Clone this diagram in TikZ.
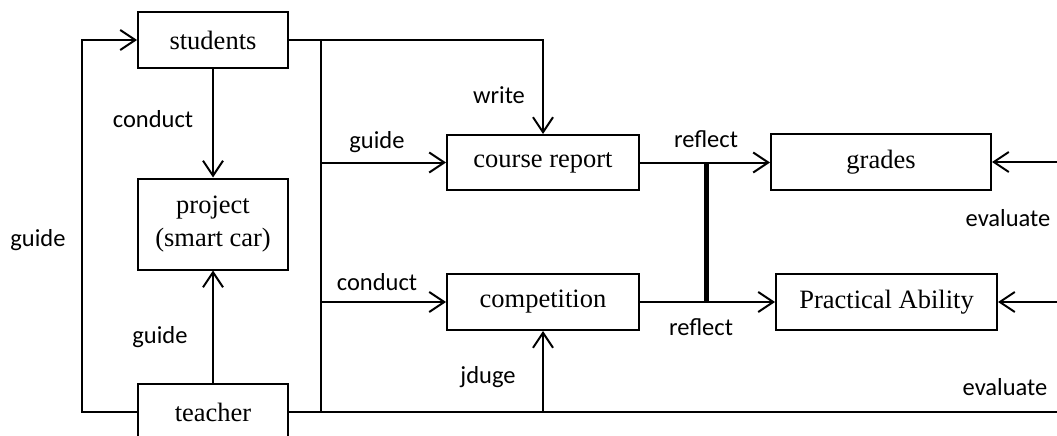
\documentclass[tikz,border=0pt]{standalone}
\usepackage{fontspec}
\setmainfont{Liberation Serif}
\newfontfamily\labfont{Carlito}
\usetikzlibrary{arrows.meta,calc}

\tikzset{
  box/.style={draw, line width=2pt, inner sep=0pt, align=center,
              font=\fontsize{26.5}{33}\selectfont},
  lbl/.style={inner sep=0pt, font=\labfont\fontsize{24.5}{28}\selectfont},
  wire/.style={line width=2pt},
  arr/.style={wire, -{Straight Barb[length=15pt,width=20pt,line width=2pt]}},
  bold/.style={line width=5pt}
}

\begin{document}
\begin{tikzpicture}[x=1pt, y=-1pt]
  \useasboundingbox (0,0) rectangle (1057,436);
  \clip (0,0) rectangle (1057,436);

  % boxes
  \node[box, minimum width=150pt, minimum height=56pt] (students) at (213,40) {students};
  \node[box, minimum width=150pt, minimum height=91pt] (project) at (213,224) {project\\(smart car)};
  \node[box, minimum width=150pt, minimum height=56pt] (teacher) at (213,412) {teacher};
  \node[box, minimum width=192pt, minimum height=55pt] (course) at (543,162.5) {course report};
  \node[box, minimum width=192pt, minimum height=56pt] (comp) at (543,302) {competition};
  \node[box, minimum width=220pt, minimum height=56pt] (grades) at (881,162) {grades};
  \node[box, minimum width=221pt, minimum height=56pt] (ability) at (886.5,302) {Practical Ability};

  % helper points
  \coordinate (loop) at (82,40);
  \coordinate (bus) at (321,40);
  \coordinate (busend) at (321,412);
  \coordinate (join) at (706,0);
  \coordinate (rim) at (1062,0);

  % teacher guides students (left loop)
  \draw[arr] (teacher.west) -| (loop) -- (students.west);

  % students / teacher to project
  \draw[arr] (students.south) -- (project.north);
  \draw[arr] (teacher.north) -- (project.south);

  % students write the course report
  \draw[arr] (students.east) -| (course.north);

  % vertical bus from students line to teacher line
  \draw[wire] (bus) -- (busend);
  \draw[arr] (bus |- course.west) -- (course.west);
  \draw[arr] (bus |- comp.west) -- (comp.west);

  % teacher line running right, judging the competition
  \draw[wire] (teacher.east) -- (rim |- teacher.east);
  \draw[arr] (teacher.east -| comp.south) -- (comp.south);

  % reflect
  \draw[arr] (course.east) -- (course.east -| grades.west);
  \draw[arr] (comp.east) -- (comp.east -| ability.west);
  \draw[bold] (join |- course.east) -- (join |- comp.east);

  % evaluate from the right
  \draw[arr] (rim |- grades.east) -- (grades.east);
  \draw[arr] (rim |- ability.east) -- (ability.east);

  % labels
  \node[lbl] (l1) at (153,119) {conduct};
  \node[lbl] (l2) at (38,240) {guide};
  \node[lbl] (l3) at (160,337) {guide};
  \node[lbl] (l4) at (499,95) {write};
  \node[lbl] (l5) at (377,142) {guide};
  \node[lbl] (l6) at (377,282) {conduct};
  \node[lbl] (l7) at (488,377) {jduge};
  \node[lbl] (l8) at (706,139) {reflect};
  \node[lbl] (l9) at (701,327) {reflect};
  \node[lbl] (l10) at (1008,218) {evaluate};
  \node[lbl] (l11) at (1005,387) {evaluate};
\end{tikzpicture}
\end{document}
